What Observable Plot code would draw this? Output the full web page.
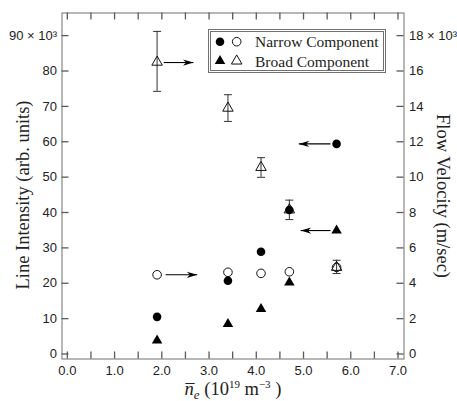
<!DOCTYPE html>
<html><head><meta charset="utf-8">
<script src="https://cdn.jsdelivr.net/npm/d3@7"></script>
<script src="https://cdn.jsdelivr.net/npm/@observablehq/plot@0.6"></script>
<style>
body{margin:0;background:#fff;}
#wrap{position:relative;width:457px;height:401px;}
#legend{position:absolute;left:208px;top:29px;}
</style></head><body><div id="wrap"></div>
<script>
// density (10^19 m^-3)
const density = [1.9, 3.4, 4.1, 4.7, 5.7];
// line intensity (x10^3 arb. units), left axis
const narrowIntensity = [10.5, 20.7, 28.9, 40.7, 59.4];
const broadIntensity = [3.8, 8.5, 12.7, 20.2, 34.9];
// flow velocity (x10^3 m/sec), right axis
const narrowVelocity = [4.48, 4.62, 4.56, 4.65, 4.9];
const broadVelocity = [16.5, 13.9, 10.55, 8.15, 4.9];
const broadVelocityLo = [14.85, 13.15, 9.99, 7.6, 4.55];
const broadVelocityHi = [18.24, 14.66, 11.1, 8.7, 5.3];
// arrows (pointing to the axis a series belongs to), y in left-axis units
const arrowY = [82.4, 22.4, 59.4, 34.9];
const arrowFrom = [2.04, 2.08, 5.57, 5.57];
const arrowTo = [2.67, 2.75, 4.90, 4.94];
// ticks
const leftTicks = [0, 10, 20, 30, 40, 50, 60, 70, 80, 90];
const xLabelTicks = [0, 1, 2, 3, 4, 5, 6, 7];
const xMinorTicks = [0, 0.5, 1, 1.5, 2, 2.5, 3, 3.5, 4, 4.5, 5, 5.5, 6, 6.5, 7];
const K = 90 / 18; // right axis (18) maps onto left axis (90)

const rows = density.map((x, i) => ({
  x, ni: narrowIntensity[i], bi: broadIntensity[i], nv: narrowVelocity[i],
  bv: broadVelocity[i], lo: broadVelocityLo[i], hi: broadVelocityHi[i]
}));
const arrows = arrowY.map((y, i) => ({y, x1: arrowFrom[i], x2: arrowTo[i], rot: arrowTo[i] > arrowFrom[i] ? 0 : 180}));

const arrowHead = {draw(ctx, size) { const L = Math.sqrt(size), W = L * 0.3;
  ctx.moveTo(0, 0); ctx.lineTo(-L, -W); ctx.lineTo(-0.7 * L, 0); ctx.lineTo(-L, W); ctx.closePath(); }};
const cap = {draw(ctx, size) { const w = Math.sqrt(size); ctx.moveTo(-w / 2, 0); ctx.lineTo(w / 2, 0); }};
const rFor = (s) => Math.sqrt(s / Math.PI);

const W = 457, H = 401, mL = 61.5, mR = 53.5, mT = 12.5, mB = 42.5;
const frameW = W - mL - mR, frameH = H - mT - mB, TL = 7; // inward tick length
const grey = "#707070";
const tickColor = "#5a5a5a";
const serif = "'Liberation Serif', 'Times New Roman', serif";
const plot = Plot.plot({
  width: W, height: H,
  marginLeft: mL, marginRight: mR, marginTop: mT, marginBottom: mB,
  style: {fontFamily: "'Liberation Sans', Arial, sans-serif", fontSize: "13px", color: "#222", background: "#fff", overflow: "visible"},
  x: {domain: [-0.113, 7.127]},
  y: {domain: [-1.41, 96.4]},
  marks: [
    Plot.frame({stroke: grey}),
    // inward ticks on all four sides
    Plot.tickX(xMinorTicks, {x: d => d, insetTop: frameH - TL, stroke: tickColor, strokeWidth: 1.3}),
    Plot.tickX(xMinorTicks, {x: d => d, insetBottom: frameH - TL, stroke: tickColor, strokeWidth: 1.3}),
    Plot.tickY(leftTicks, {y: d => d, insetRight: frameW - TL, stroke: tickColor, strokeWidth: 1.3}),
    Plot.tickY(leftTicks, {y: d => d, insetLeft: frameW - TL, stroke: tickColor, strokeWidth: 1.3}),
    Plot.axisX(xLabelTicks, {anchor: "bottom", tickSize: 0, tickPadding: 7, tickFormat: d3.format(".1f"), label: null}),
    Plot.axisY(leftTicks, {anchor: "left", tickSize: 0, tickPadding: 5, label: null,
      tickFormat: d => d === 90 ? "90 × 10³" : String(d)}),
    Plot.axisY(leftTicks, {anchor: "right", tickSize: 0, tickPadding: 5, label: null,
      tickFormat: d => d === 90 ? "18 × 10³" : String(d / K)}),
    // error bars on broad flow velocity
    Plot.ruleX(rows, {x: "x", y1: d => d.lo * K, y2: d => d.hi * K, stroke: "#333", strokeWidth: 1}),
    Plot.dot(rows, {x: "x", y: d => d.hi * K, symbol: cap, r: rFor(64), stroke: "#333", strokeWidth: 1}),
    Plot.dot(rows, {x: "x", y: d => d.lo * K, symbol: cap, r: rFor(64), stroke: "#333", strokeWidth: 1}),
    // open markers: flow velocity
    Plot.dot(rows, {x: "x", y: d => d.nv * K, symbol: "circle", r: 4.3, stroke: "#111", fill: "none", strokeWidth: 1}),
    Plot.dot(rows, {x: "x", y: d => d.bv * K, symbol: "triangle", r: 3.9, stroke: "#111", fill: "none", strokeWidth: 1}),
    // filled markers: line intensity
    Plot.dot(rows, {x: "x", y: "ni", symbol: "circle", r: 4.3, fill: "#000", stroke: "none"}),
    Plot.dot(rows, {x: "x", y: "bi", symbol: "triangle", r: 3.9, fill: "#000", stroke: "none"}),
    // arrows
    Plot.link(arrows, {x1: "x1", x2: "x2", y1: "y", y2: "y", stroke: "#000", strokeWidth: 1.1}),
    Plot.dot(arrows, {x: "x2", y: "y", symbol: arrowHead, r: rFor(110), rotate: "rot", fill: "#000", stroke: "none"}),
    // axis titles
    Plot.text(["Line Intensity (arb. units)"], {frameAnchor: "left", textAnchor: "middle", lineAnchor: "middle",
      dx: -39, dy: 9, rotate: -90, fontFamily: serif, fontSize: 18.5, fill: "#222"}),
    Plot.text(["Flow Velocity (m/sec)"], {frameAnchor: "right", textAnchor: "middle", lineAnchor: "middle",
      dx: 38.5, dy: 10, rotate: 90, fontFamily: serif, fontSize: 18.5, fill: "#222"}),
    Plot.text(["n"], {frameAnchor: "bottom", textAnchor: "middle", lineAnchor: "middle", dy: 30, className: "xlab",
      fontFamily: serif, fontSize: 18.5, fill: "#222"})
  ]
});
document.getElementById("wrap").appendChild(plot);

// rich x-axis title
const ns = "http://www.w3.org/2000/svg";
const xl = plot.querySelector(".xlab text");
if (xl) {
  xl.textContent = "";
  const ts = (t, a) => { const e = document.createElementNS(ns, "tspan"); e.textContent = t;
    for (const k in a) e.setAttribute(k, a[k]); xl.appendChild(e); return e; };
  ts("n\u0305", {"font-style": "italic"});
  ts("e", {"font-style": "italic", "font-size": "13px", "dy": "4"});
  ts(" (10", {"dy": "-4"});
  ts("19", {"font-size": "11px", "dy": "-7"});
  ts(" m", {"dy": "7"});
  ts("\u22123", {"font-size": "11px", "dy": "-7"});
  ts(" )", {"dy": "7"});
}

// legend
const leg = document.createElementNS(ns, "svg");
leg.setAttribute("id", "legend"); leg.setAttribute("width", 179); leg.setAttribute("height", 45);
leg.innerHTML = `
 <rect x="0.5" y="0.5" width="177" height="43" fill="#fff" stroke="${grey}" stroke-width="1"/>
 <rect x="2.5" y="2.5" width="173" height="39" fill="none" stroke="${grey}" stroke-width="1"/>
 <circle cx="12" cy="12.7" r="4.3" fill="#000"/>
 <circle cx="28.7" cy="12.7" r="4.3" fill="none" stroke="#111"/>
 <path transform="translate(12,32)" d="${d3.symbol(d3.symbolTriangle, 3.9*3.9*Math.PI)()}" fill="#000"/>
 <path transform="translate(28.7,32)" d="${d3.symbol(d3.symbolTriangle, 3.9*3.9*Math.PI)()}" fill="none" stroke="#111"/>
 <text x="47" y="18" font-family="${serif}" font-size="15.5" fill="#222">Narrow Component</text>
 <text x="47" y="37.5" font-family="${serif}" font-size="15.5" fill="#222">Broad Component</text>`;
document.getElementById("wrap").appendChild(leg);
</script></body></html>
